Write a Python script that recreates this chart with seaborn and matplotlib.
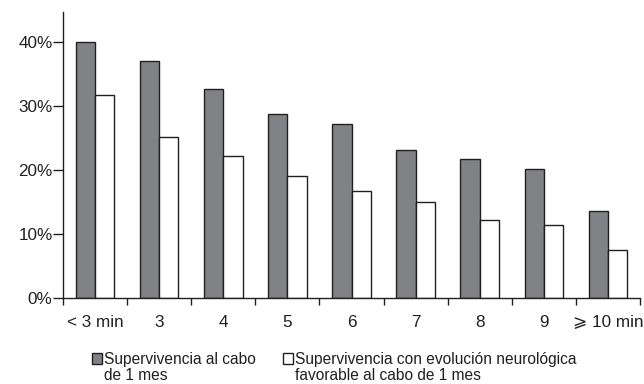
import matplotlib
matplotlib.use("Agg")
import matplotlib.pyplot as plt
import seaborn as sns
import pandas as pd
from matplotlib.ticker import FixedLocator, FuncFormatter

categories = ["< 3 min", "3", "4", "5", "6", "7", "8", "9", "⩾ 10 min"]
supervivencia = [40.0, 37.1, 32.7, 28.8, 27.2, 23.2, 21.7, 20.2, 13.6]
favorable = [31.7, 25.2, 22.2, 19.1, 16.8, 15.0, 12.2, 11.4, 7.5]
series_names = ["Supervivencia al cabo\nde 1 mes",
                "Supervivencia con evolución neurológica\nfavorable al cabo de 1 mes"]
y_ticks = [0, 10, 20, 30, 40]

df = pd.DataFrame({
    "cat": categories * 2,
    "val": supervivencia + favorable,
    "serie": [series_names[0]] * len(categories) + [series_names[1]] * len(categories),
})

sns.set_style("white")
plt.rcParams["font.family"] = ["Liberation Sans", "DejaVu Sans"]

W, H = 644, 384
fig = plt.figure(figsize=(6.44, 3.84), dpi=100)
ax = fig.add_axes([63 / W, 1 - 298 / H, (640 - 63) / W, (298 - 12) / H])

sns.barplot(data=df, x="cat", y="val", hue="serie", order=categories,
            hue_order=series_names, palette=["#808285", "#ffffff"],
            edgecolor="#231f20", linewidth=1.0, width=0.6, saturation=1,
            ax=ax, legend=True)

ax.set_xlim(-0.5, len(categories) - 0.5)
ax.set_ylim(0, 44.7)
ax.set_xlabel("")
ax.set_ylabel("")
for s in ["top", "right"]:
    ax.spines[s].set_visible(False)
for s in ["left", "bottom"]:
    ax.spines[s].set_color("#231f20")
    ax.spines[s].set_linewidth(1.0)

ax.set_yticks(y_ticks)
ax.yaxis.set_major_formatter(FuncFormatter(lambda v, p: f"{int(v)}%"))
ax.tick_params(axis="y", direction="out", length=7, width=1, color="#231f20",
               labelsize=12.3, labelcolor="#231f20", pad=0.5, left=True)
ax.set_xticks(range(len(categories)))
ax.set_xticklabels(categories)
ax.xaxis.set_minor_locator(FixedLocator([i - 0.5 for i in range(len(categories) + 1)]))
ax.tick_params(axis="x", which="major", length=0, labelsize=12.3, labelcolor="#231f20", pad=12)
ax.tick_params(axis="x", which="minor", direction="out", length=5, width=1,
               color="#231f20", bottom=True)

handles, labels = ax.get_legend_handles_labels()
ax.get_legend().remove()
first_lines = [lab.split("\n")[0] for lab in labels]
second_lines = [lab.split("\n")[1] for lab in labels]
leg = fig.legend(handles, first_lines, ncol=2, loc="upper left",
                 bbox_to_anchor=(92 / W, 1 - 352 / H), borderaxespad=0,
                 frameon=False, fontsize=11.2, handlelength=0.65, handleheight=0.65,
                 handletextpad=0.15, columnspacing=1.7, borderpad=0, labelspacing=0,
                 labelcolor="#231f20")

fig.canvas.draw()
renderer = fig.canvas.get_renderer()
for txt, extra in zip(leg.get_texts(), second_lines):
    bb = txt.get_window_extent(renderer)
    fig.text(bb.x0 / W, (bb.y0 - 16.5) / H, extra, ha="left", va="bottom",
             fontsize=11.2, color="#231f20")

fig.savefig("out.png", dpi=100)
